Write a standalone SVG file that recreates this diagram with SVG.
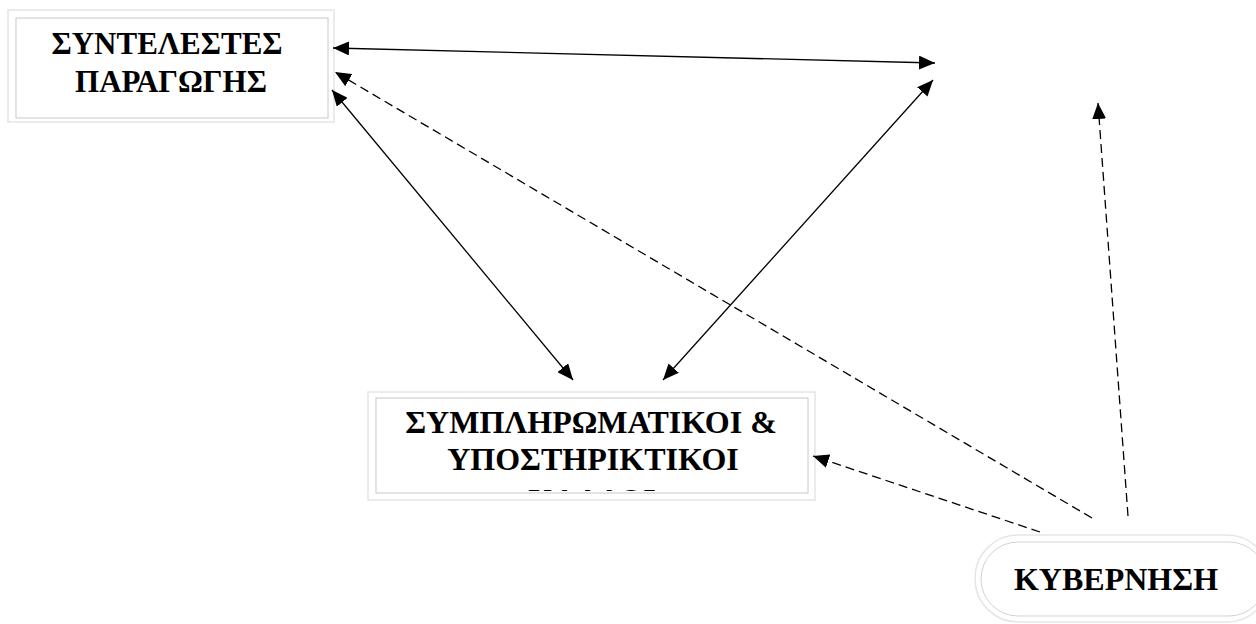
<svg xmlns="http://www.w3.org/2000/svg" width="1256" height="624" viewBox="0 0 1256 624">
<style>
.outer{fill:none;stroke:#e4e6e8;stroke-width:1.6}
.inner{fill:#fff;stroke:#c4c8cc;stroke-width:1}
.lbl{font-family:"Liberation Serif","Times New Roman",serif;font-weight:bold;font-size:32px;fill:#000;text-anchor:middle}
.ln{stroke:#000;stroke-width:1.3;fill:none}
.dash{stroke-dasharray:9 5}
</style>
<defs>
<marker id="ah" markerUnits="userSpaceOnUse" markerWidth="18" markerHeight="14" refX="16" refY="7" orient="auto-start-reverse">
<path d="M0,0 L16,7 L0,14 Z" fill="#000"/>
</marker>
<clipPath id="c2"><rect x="376" y="398" width="432" height="93"/></clipPath>
</defs>
<rect width="1256" height="624" fill="#fff"/>
<g id="n1">
<rect class="outer" x="8" y="10" width="326" height="112"/>
<rect class="inner" x="16" y="18" width="312" height="100"/>
<text class="lbl" x="167" y="54" style="font-size:31px">ΣΥΝΤΕΛΕΣΤΕΣ</text>
<text class="lbl" x="171" y="92" style="font-size:31px">ΠΑΡΑΓΩΓΗΣ</text>
</g>
<g id="n2">
<rect class="outer" x="368" y="392" width="447" height="108"/>
<rect class="inner" x="376" y="398" width="432" height="95"/>
<text class="lbl" x="591" y="433">ΣΥΜΠΛΗΡΩΜΑΤΙΚΟΙ &amp;</text>
<text class="lbl" x="593" y="470">ΥΠΟΣΤΗΡΙΚΤΙΚΟΙ</text>
<text class="lbl" x="592" y="511" clip-path="url(#c2)">ΚΛΑΔΟΙ</text>
</g>
<g id="n3">
<rect class="outer" x="975" y="535" width="295" height="87" rx="43"/>
<rect fill="#fff" stroke="#d0d3d6" stroke-width="1" x="981" y="542" width="285" height="74" rx="37"/>
<text class="lbl" x="1116" y="590">ΚΥΒΕΡΝΗΣΗ</text>
</g>
<g id="connectors">
<line class="ln" x1="333" y1="48" x2="935" y2="63" marker-start="url(#ah)" marker-end="url(#ah)"/>
<line class="ln" x1="332" y1="90" x2="573" y2="380" marker-start="url(#ah)" marker-end="url(#ah)"/>
<line class="ln" x1="933" y1="80" x2="663" y2="380" marker-start="url(#ah)" marker-end="url(#ah)"/>
<line class="ln dash" x1="1092" y1="518" x2="335" y2="72" marker-end="url(#ah)"/>
<line class="ln dash" x1="1040" y1="532" x2="813" y2="456" marker-end="url(#ah)"/>
<line class="ln dash" x1="1128" y1="516" x2="1098" y2="103" marker-end="url(#ah)"/>
</g>
</svg>
